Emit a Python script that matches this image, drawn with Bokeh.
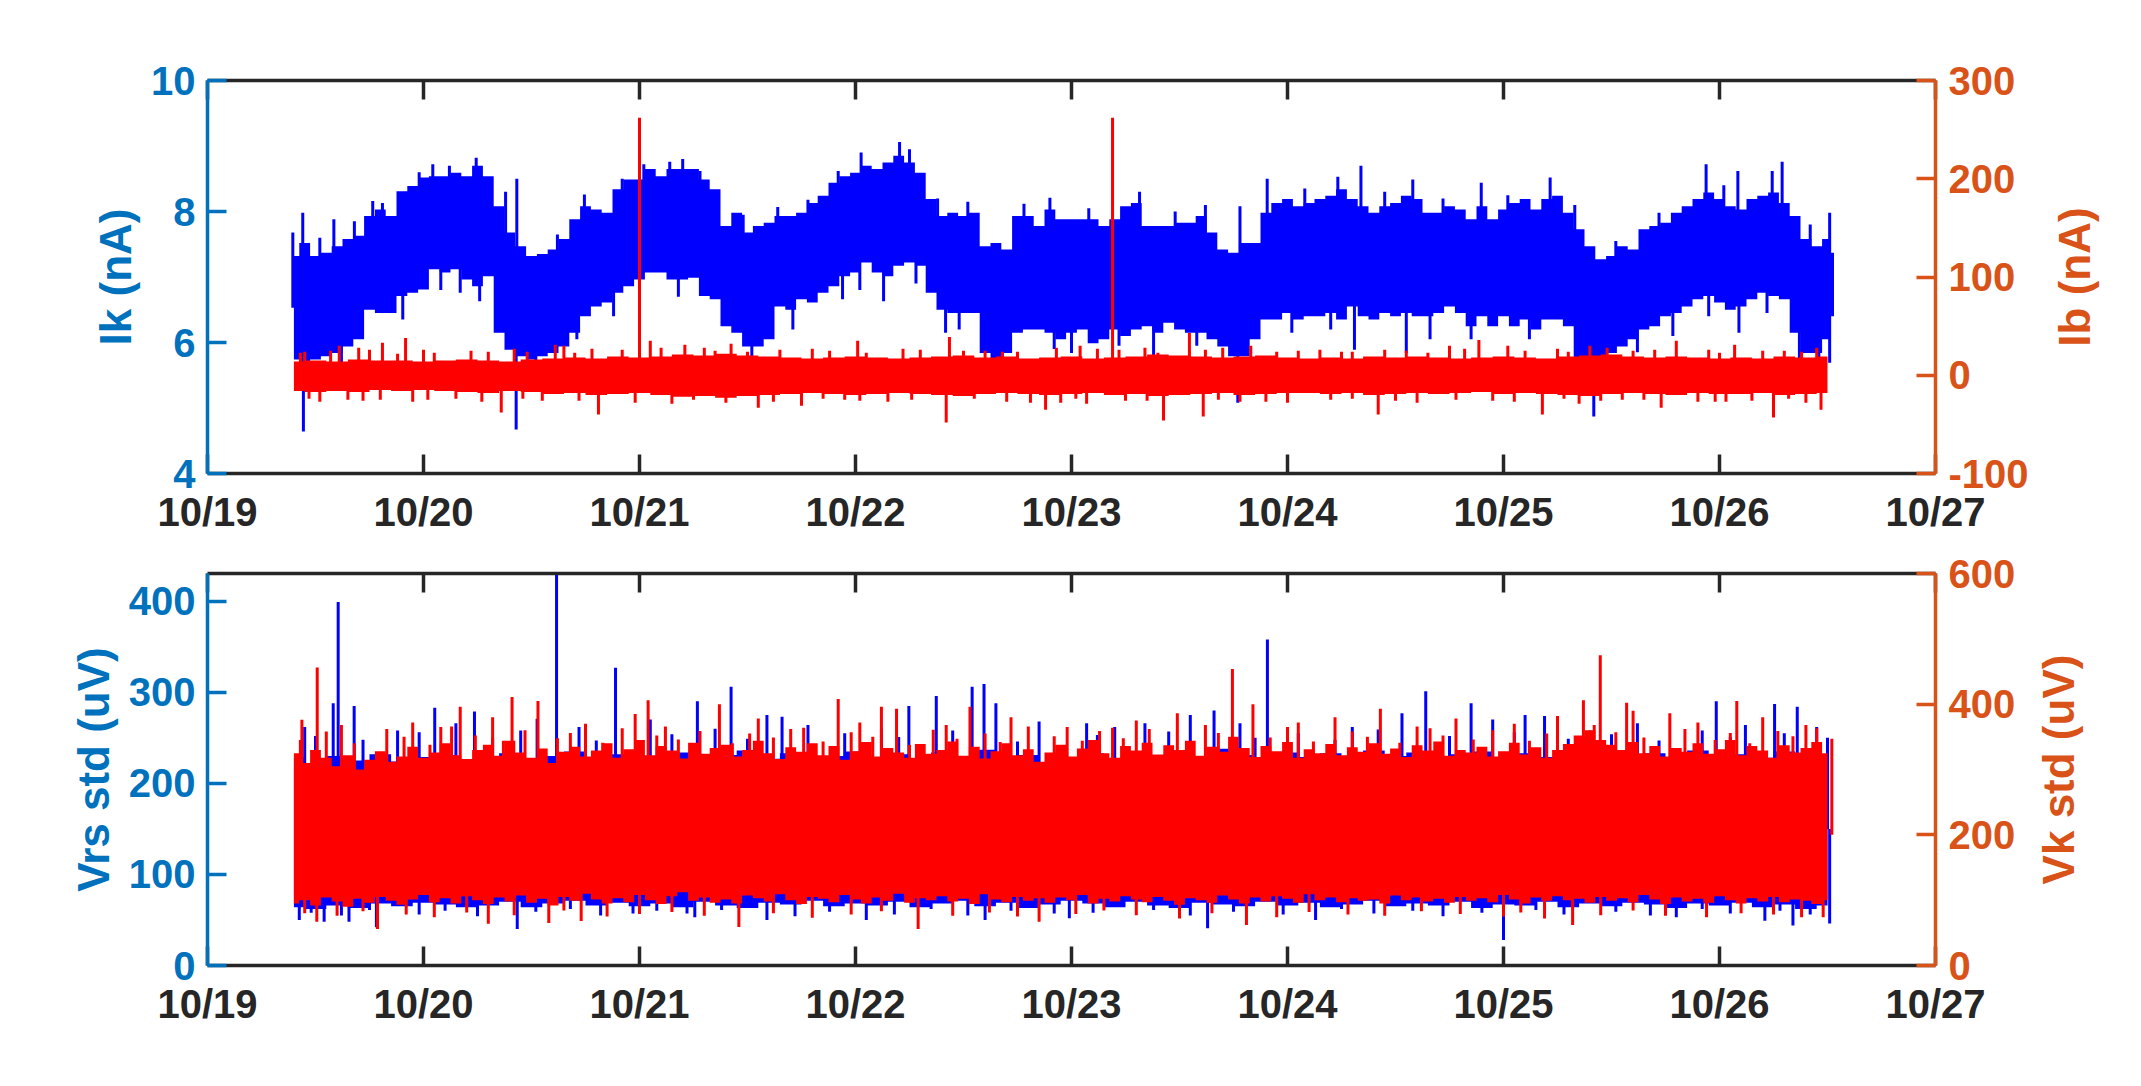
import math
import numpy as np
from bokeh.plotting import figure
from bokeh.models import Range1d, LinearAxis, FixedTicker
from bokeh.core.properties import value
from bokeh.layouts import column, row
from bokeh.embed import file_html
from bokeh.resources import INLINE

# ---------------- data (days since 10/19 00:00) ----------------
day_ticks = [0, 1, 2, 3, 4, 5, 6, 7, 8]
day_labels = ["10/19", "10/20", "10/21", "10/22", "10/23", "10/24", "10/25", "10/26", "10/27"]

# Top panel: Ik (nA), core envelope every 0.05 day
ik_t = [round(0.40 + 0.05 * i, 2) for i in range(143)] + [7.53]
ik_hi = [7.32, 7.52, 7.32, 7.37, 7.47, 7.58, 7.63, 7.93, 8.03, 7.93,
         8.31, 8.39, 8.52, 8.54, 8.54, 8.59, 8.54, 8.70, 8.54, 8.08,
         7.68, 7.47, 7.32, 7.35, 7.42, 7.58, 7.88, 8.08, 8.03, 7.98,
         8.34, 8.49, 8.49, 8.65, 8.54, 8.65, 8.65, 8.65, 8.49, 8.34,
         7.78, 7.98, 7.68, 7.78, 7.83, 7.93, 7.93, 7.98, 8.13, 8.24,
         8.44, 8.54, 8.59, 8.70, 8.65, 8.75, 8.85, 8.75, 8.59, 8.19,
         7.93, 7.98, 7.93, 7.98, 7.47, 7.52, 7.42, 7.93, 7.93, 7.78,
         8.03, 7.88, 7.88, 7.88, 7.88, 7.78, 7.88, 8.08, 8.13, 7.78,
         7.78, 7.78, 7.83, 7.83, 7.93, 7.68, 7.42, 7.37, 7.52, 7.52,
         7.98, 8.13, 8.19, 8.08, 8.13, 8.19, 8.24, 8.34, 8.19, 8.08,
         7.98, 8.08, 8.13, 8.24, 8.19, 7.98, 7.98, 8.08, 8.03, 7.88,
         8.08, 7.88, 8.03, 8.13, 8.19, 8.03, 8.19, 8.24, 7.98, 7.73,
         7.47, 7.27, 7.32, 7.47, 7.42, 7.73, 7.78, 7.83, 7.98, 8.08,
         8.19, 8.29, 8.19, 8.08, 8.03, 8.19, 8.24, 8.29, 8.13, 7.93,
         7.58, 7.47, 7.58, 7.37]
ik_lo = [5.74, 5.69, 5.74, 5.79, 5.84, 5.94, 6.05, 6.50, 6.45, 6.45,
         6.71, 6.76, 6.81, 7.12, 7.07, 7.12, 6.96, 6.86, 7.01, 6.15,
         5.89, 5.79, 5.74, 5.79, 5.84, 5.94, 6.15, 6.40, 6.55, 6.61,
         6.76, 6.86, 6.96, 7.07, 7.07, 6.96, 6.96, 6.99, 6.71, 6.66,
         6.25, 6.15, 5.94, 5.94, 6.05, 6.55, 6.50, 6.66, 6.61, 6.76,
         6.86, 7.01, 7.07, 7.22, 7.07, 7.01, 7.17, 7.22, 7.17, 6.76,
         6.50, 6.45, 6.45, 6.45, 5.84, 5.69, 5.84, 6.15, 6.20, 6.20,
         6.15, 6.05, 6.15, 6.20, 5.99, 6.05, 6.20, 6.10, 6.20, 6.25,
         6.15, 6.30, 6.20, 6.15, 6.15, 6.05, 5.94, 5.79, 5.79, 6.05,
         6.35, 6.35, 6.45, 6.35, 6.40, 6.40, 6.45, 6.35, 6.55, 6.40,
         6.35, 6.45, 6.40, 6.45, 6.40, 6.40, 6.45, 6.55, 6.45, 6.25,
         6.40, 6.25, 6.40, 6.25, 6.35, 6.20, 6.35, 6.35, 6.25, 5.74,
         5.69, 5.69, 5.84, 5.94, 6.05, 6.20, 6.25, 6.40, 6.45, 6.55,
         6.66, 6.71, 6.61, 6.50, 6.55, 6.66, 6.76, 6.71, 6.66, 6.15,
         5.84, 5.84, 6.05, 6.40]
ik_spike_t = [0.395, 0.441, 0.585, 0.765, 0.81, 1.043, 1.244, 1.432, 1.745, 2.02,
              2.14, 2.2, 2.64, 3.026, 3.204, 3.25, 3.90, 4.315, 4.78, 4.906,
              5.233, 5.34, 5.58, 5.897, 6.216, 6.938, 7.085, 7.244, 7.29, 7.51,
              0.52, 0.68, 0.98, 1.12, 1.38, 1.62, 1.92, 2.28, 2.48, 2.78,
              2.92, 3.38, 3.52, 3.78, 4.08, 4.48, 4.62, 5.08, 5.45, 5.72,
              6.02, 6.33, 6.52, 6.72, 7.02, 7.42,
              0.444, 1.429, 0.904, 1.26, 1.17, 1.71, 2.94, 3.13, 3.417, 2.71,
              3.68, 4.77, 5.31, 5.55, 5.66, 4.0, 4.38, 6.418, 7.37, 7.51,
              6.784, 7.09, 0.62, 1.08, 1.52, 1.88, 2.18, 2.52, 3.02, 3.28,
              3.48, 3.92, 4.22, 4.58, 5.02, 5.20, 5.85, 6.12, 6.62, 6.95,
              7.22, 7.46]
ik_spike_v = [7.68, 7.98, 7.88, 8.16, 8.13, 8.72, 8.82, 8.50, 8.26, 8.72,
              8.76, 8.80, 8.07, 8.90, 9.06, 8.95, 8.21, 8.30, 8.08, 8.50,
              8.53, 8.70, 8.49, 8.44, 8.52, 8.72, 8.62, 8.62, 8.76, 7.98,
              7.60, 7.85, 8.60, 8.70, 8.30, 7.65, 8.50, 8.62, 7.95, 8.18,
              8.62, 8.20, 8.15, 8.12, 8.05, 8.00, 8.10, 8.35, 8.30, 8.20,
              8.25, 8.10, 7.55, 7.98, 8.40, 7.80,
              4.64, 4.67, 6.35, 6.63, 6.76, 6.05, 6.66, 6.63, 6.15, 6.20,
              5.64, 5.08, 5.89, 5.84, 6.05, 5.84, 5.79, 4.87, 5.74, 5.69,
              6.10, 6.15, 5.60, 6.80, 5.55, 6.40, 6.70, 5.75, 6.80, 6.90,
              6.20, 5.90, 5.95, 5.95, 6.15, 6.20, 6.05, 6.05, 5.85, 6.40,
              6.45, 5.62]

# Top panel: Ib (nA), core envelope every 0.1 day
ib_t = [round(0.40 + 0.1 * i, 2) for i in range(72)]
ib_hi = [14, 15, 14, 16, 15, 15, 14,
         15, 16, 15, 14, 16, 17, 18, 17, 19, 18,
         19, 21, 20, 22, 20, 19, 18, 17, 18, 19,
         18, 17, 18, 19, 20, 18, 19, 17, 18, 19,
         17, 18, 19, 21, 20, 19, 18, 19, 20, 18,
         17, 18, 17, 19, 18, 19, 18, 17, 18, 19,
         18, 17, 19, 20, 21, 19, 18, 19, 18, 17,
         18, 17, 19, 18, 19]
ib_lo = [-16, -17, -16, -17, -15, -16, -15,
         -16, -17, -18, -16, -17, -19, -18, -20, -19, -18,
         -20, -22, -21, -23, -21, -20, -19, -18, -19, -20,
         -19, -18, -19, -20, -21, -19, -18, -19, -20, -19,
         -18, -20, -19, -21, -20, -19, -18, -20, -19, -18,
         -18, -19, -18, -20, -19, -18, -19, -18, -17, -19,
         -18, -19, -20, -21, -19, -18, -19, -20, -18, -19,
         -19, -18, -20, -19, -18]
ib_spike_t = [2.0, 4.19,
              0.917, 0.61, 0.70, 0.81, 2.05, 1.65, 1.61, 3.435, 2.21, 2.424,
              3.01, 3.93, 4.546, 4.04, 4.83, 5.75, 4.34, 5.886, 6.02, 6.48,
              6.8, 7.07, 0.45, 0.75, 1.05, 1.22, 1.48, 1.78, 2.30, 2.65,
              2.88, 3.22, 3.60, 3.75, 4.22, 4.70, 4.95, 5.15, 5.30, 5.55,
              6.25, 6.40, 6.60, 6.95, 7.30, 7.45,
              0.43, 0.57, 0.88, 1.00, 1.30, 1.42, 1.70, 1.92, 2.10, 2.35,
              2.50, 2.80, 3.05, 3.30, 3.50, 3.68, 4.12, 4.40, 4.62, 5.05,
              5.25, 5.45, 5.65, 5.82, 6.10, 6.30, 6.70, 7.00, 7.20, 7.38,
              1.36, 1.81, 0.52, 0.80, 3.42, 2.55, 2.75, 3.88, 3.81, 4.426,
              4.61, 5.42, 4.07, 4.78, 6.18, 7.25, 7.47, 6.73, 7.03,
              0.65, 0.95, 1.15, 1.55, 2.15, 2.40, 2.95, 3.15, 3.55, 3.95,
              4.25, 4.90, 5.20, 5.60, 5.95, 6.35, 6.55, 6.90, 7.15, 7.40,
              0.47, 0.72, 1.02, 1.27, 1.46, 1.72, 1.98, 2.25, 2.62, 2.85,
              3.02, 3.26, 3.70, 4.02, 4.35, 4.68, 5.00, 5.30, 5.50, 5.78,
              6.05, 6.28, 6.45, 6.65, 6.98, 7.32]
ib_spike_v = [262, 262,
              38, 30, 28, 33, 35, 30, 31, 39, 31, 32,
              35, 28, 43, 30, 30, 30, 28, 36, 30, 28,
              35, 31, 24, 26, 23, 25, 24, 27, 28, 26,
              25, 27, 25, 24, 26, 28, 24, 26, 24, 25,
              27, 30, 25, 26, 25, 28,
              23, 25, 22, 26, 24, 27, 23, 26, 28, 25,
              24, 27, 23, 26, 25, 24, 27, 23, 26, 25,
              24, 26, 23, 27, 25, 24, 26, 23, 25, 24,
              -38, -40, -27, -25, -48, -33, -31, -35, -28, -46,
              -42, -40, -29, -27, -40, -43, -35, -33, -27,
              -25, -27, -24, -26, -29, -28, -25, -27, -24, -28,
              -26, -27, -25, -28, -26, -29, -25, -27, -26, -28,
              -24, -26, -25, -27, -24, -26, -28, -25, -27, -24,
              -26, -25, -27, -24, -26, -25, -28, -24, -26, -25,
              -27, -24, -26, -25, -27, -24]

# Bottom panel: Vrs std (uV), core envelope every 0.1 day
vrs_t = [round(0.40 + 0.1 * i, 2) for i in range(72)]
vrs_hi = [228, 222, 230, 225, 232, 224, 229,
          231, 226, 222, 233, 225, 230, 235, 227, 232, 224,
          230, 234, 226, 231, 236, 227, 233, 226, 230, 235,
          227, 232, 225, 234, 229, 237, 226, 231, 223, 228,
          233, 226, 235, 230, 233, 228, 238, 231, 227, 234,
          229, 233, 226, 236, 230, 234, 228, 232, 235, 226,
          233, 229, 226, 235, 231, 228, 233, 229, 236, 230,
          232, 228, 235, 231, 226]
vrs_lo = [64, 62, 66, 63, 68, 65, 69,
          67, 64, 66, 70, 64, 68, 71, 66, 69, 65,
          68, 64, 70, 66, 63, 69, 67, 71, 65, 68,
          66, 70, 64, 68, 71, 65, 69, 63, 67, 71,
          68, 64, 70, 66, 63, 69, 67, 65, 70, 66,
          69, 64, 67, 71, 65, 68, 66, 70, 63, 67,
          66, 70, 64, 68, 65, 69, 67, 63, 68, 66,
          69, 64, 67, 62, 66]
vrs_spike_t = [0.605, 1.616, 1.889, 2.424, 3.374, 3.54, 3.595, 0.582, 0.679, 1.052,
               1.236, 1.526, 2.268, 3.247, 3.65, 2.59, 2.66, 4.907, 5.64, 5.85,
               6.985, 7.255, 7.36, 5.53, 4.66, 4.34, 4.07, 4.55, 6.10, 6.19,
               0.45, 0.88, 1.15, 1.72, 2.05, 2.78, 3.12, 3.85, 4.20, 4.78,
               5.30, 5.95, 6.40, 6.62, 7.12, 7.45,
               0.50, 0.72, 0.98, 1.32, 1.45, 1.80, 2.15, 2.35, 2.50, 2.95,
               3.20, 3.45, 3.75, 4.12, 4.45, 4.85, 5.05, 5.22, 5.42, 5.75,
               6.05, 6.30, 6.50, 6.72, 6.92, 7.05, 7.30, 7.50,
               1.434, 0.782, 0.425, 0.54, 0.655, 2.59, 2.256, 1.97, 3.60, 3.05,
               6.0, 7.34, 4.63, 7.21, 5.13, 6.8, 3.99, 7.51,
               0.48, 0.62, 0.75, 0.98, 1.10, 1.25, 1.52, 1.68, 1.82, 2.08,
               2.22, 2.38, 2.72, 2.88, 3.18, 3.35, 3.52, 3.72, 3.92, 4.10,
               4.38, 4.55, 4.75, 4.98, 5.25, 5.40, 5.58, 5.72, 5.90, 6.15,
               6.28, 6.52, 6.68, 6.92, 7.05, 7.28, 7.42]
vrs_spike_v = [399, 430, 327, 306, 296, 306, 309, 288, 285, 283,
               279, 271, 290, 285, 288, 275, 273, 358, 301, 288,
               290, 287, 284, 277, 280, 266, 266, 275, 275, 274,
               262, 258, 266, 262, 270, 264, 260, 268, 262, 266,
               262, 270, 258, 266, 264, 262,
               252, 248, 256, 250, 258, 247, 254, 260, 249, 255,
               251, 258, 246, 253, 257, 250, 255, 248, 259, 252,
               256, 249, 254, 247, 258, 251, 255, 250,
               40, 42, 50, 48, 48, 50, 53, 57, 50, 50,
               28, 44, 41, 49, 50, 53, 52, 46,
               58, 55, 61, 56, 60, 54, 59, 62, 55, 60,
               57, 61, 54, 59, 56, 62, 55, 60, 57, 58,
               61, 55, 59, 56, 62, 57, 60, 54, 58, 61,
               56, 59, 55, 62, 57, 60, 56]

# Bottom panel: Vk std (uV), core envelope every 0.05 day
vk_t = [round(0.40 + 0.05 * i, 2) for i in range(143)]
vk_hi = [325, 310, 330, 318, 305, 322, 300, 315, 328, 312,
         320, 335, 318, 326, 340, 322, 316, 330, 338, 321,
         344, 326, 318, 332, 310, 327, 335, 320, 329, 340,
         318, 331, 345, 322, 336, 329, 317, 341, 324, 333,
         338, 320, 330, 344, 325, 316, 334, 327, 340, 322,
         336, 315, 328, 342, 320, 333, 326, 318, 339, 324,
         330, 343, 321, 335, 317, 328, 340, 322, 331, 312,
         326, 338, 320, 332, 345, 325, 318, 336, 329, 341,
         323, 337, 330, 344, 321, 335, 327, 350, 333, 319,
         336, 328, 342, 318, 331, 325, 339, 322, 334, 327,
         340, 324, 332, 319, 337, 329, 343, 321, 330, 326,
         335, 320, 328, 341, 323, 334, 318, 330, 339, 352,
         360, 345, 338, 330, 342, 325, 336, 320, 333, 327,
         340, 324, 331, 345, 322, 336, 329, 318, 337, 326,
         333, 342, 325]
vk_lo = [95, 100, 92, 104, 98, 90, 102, 96, 105, 99,
         93, 101, 108, 97, 103, 95, 106, 100, 94, 104,
         98, 107, 96, 102, 92, 105, 99, 110, 101, 95,
         103, 97, 108, 100, 94, 106, 112, 99, 104, 96,
         101, 95, 107, 103, 98, 109, 100, 94, 105, 102,
         97, 108, 101, 95, 104, 99, 110, 96, 103, 100,
         106, 98, 102, 94, 109, 101, 97, 105, 99, 103,
         96, 104, 100, 108, 95, 102, 98, 106, 101, 97,
         105, 99, 93, 103, 100, 96, 107, 101, 95, 104,
         98, 106, 102, 96, 109, 100, 104, 97, 103, 99,
         101, 95, 107, 100, 104, 98, 102, 96, 105, 99,
         103, 97, 108, 101, 95, 104, 99, 106, 100, 102,
         96, 105, 99, 103, 97, 108, 101, 94, 104, 98,
         102, 96, 106, 100, 95, 103, 98, 105, 97, 101,
         99, 94, 100]
vk_spike_t = [0.508, 1.41, 1.53, 2.04, 2.92, 2.37, 0.437, 3.12, 3.19, 3.53,
              1.17, 4.745, 6.448, 4.84, 4.49, 7.08, 6.77, 6.57, 6.37, 5.43,
              4.19, 0.62, 0.95, 1.08, 1.32, 1.75, 1.98, 2.12, 2.55, 2.70,
              3.02, 3.42, 3.72, 3.98, 4.30, 4.62, 5.05, 5.22, 5.60, 5.78,
              6.05, 6.25, 6.60, 6.90, 7.20, 7.40,
              0.43, 0.55, 0.68, 0.83, 0.91, 1.03, 1.13, 1.24, 1.37, 1.47,
              1.62, 1.68, 1.83, 1.92, 2.08, 2.18, 2.28, 2.43, 2.51, 2.62,
              2.76, 2.85, 2.98, 3.08, 3.25, 3.36, 3.47, 3.60, 3.67, 3.80,
              3.92, 4.05, 4.13, 4.24, 4.36, 4.56, 4.68, 4.92, 5.00, 5.12,
              5.30, 5.37, 5.52, 5.66, 5.72, 5.86, 5.95, 6.12, 6.20, 6.42,
              6.52, 6.65, 6.84, 6.98, 7.05, 7.14, 7.27, 7.34, 7.45, 7.52,
              0.787, 1.3, 1.58, 2.46, 3.29, 3.85, 0.506, 1.73, 4.81, 6.32,
              4.50, 7.48, 6.19, 6.94,
              0.45, 0.60, 0.72, 0.92, 1.05, 1.20, 1.42, 1.65, 1.85, 2.00,
              2.15, 2.30, 2.62, 2.80, 2.98, 3.12, 3.45, 3.62, 3.75, 4.02,
              4.15, 4.30, 4.65, 4.95, 5.10, 5.28, 5.45, 5.62, 5.80, 6.00,
              6.08, 6.45, 6.60, 6.75, 7.10, 7.25, 7.38]
vk_spike_v = [456, 411, 405, 406, 408, 400, 376, 396, 393, 396,
              396, 454, 475, 400, 386, 405, 386, 402, 406, 393,
              364, 368, 372, 365, 380, 370, 385, 366, 378, 362,
              372, 368, 380, 365, 375, 368, 372, 380, 366, 378,
              370, 382, 390, 372, 380, 368,
              345, 358, 340, 362, 350, 338, 366, 352, 344, 360,
              348, 356, 341, 363, 352, 346, 359, 340, 355, 349,
              364, 343, 357, 350, 338, 361, 347, 355, 342, 366,
              351, 344, 359, 348, 362, 340, 356, 349, 365, 343,
              358, 350, 341, 363, 352, 346, 360, 344, 355, 368,
              357, 349, 362, 345, 356, 340, 359, 351, 363, 347,
              56, 64, 65, 59, 56, 67, 67, 68, 62, 62,
              72, 74, 72, 74,
              80, 76, 83, 78, 74, 81, 77, 84, 75, 79,
              82, 76, 80, 73, 78, 83, 76, 81, 75, 79,
              84, 77, 80, 74, 82, 78, 76, 83, 79, 75,
              81, 77, 84, 76, 80, 78, 74]

# ---------------- styling ----------------
FONT = "Liberation Sans"
LEFT_C = "#0072BD"
RIGHT_C = "#D95319"
AX_C = "#262626"
BLUE = "#0000FF"
RED = "#FF0000"
FRAME_W = 1728
RIGHT_BORDER = 94
LABEL_W = 98
RIGHT_AXIS_X = 1936  # page x of the right frame edge


def style_axis(ax, color, label_color, ticks, overrides, show_labels=True):
    ax.ticker = FixedTicker(ticks=ticks)
    ax.major_label_overrides = overrides
    ax.axis_line_color = color
    ax.axis_line_width = 3.5
    ax.major_tick_line_color = color
    ax.major_tick_line_width = 3.5
    ax.major_tick_in = 19
    ax.major_tick_out = 0
    ax.minor_tick_line_color = None
    ax.major_label_text_font = FONT
    ax.major_label_text_font_style = "bold"
    ax.major_label_text_color = label_color
    ax.major_label_text_font_size = "40px" if show_labels else "0px"
    ax.axis_label_text_font = FONT
    ax.axis_label_text_font_style = "bold"
    ax.axis_label_text_font_size = "44px"
    ax.axis_label_text_color = label_color


def make_panel(yrange, rrange, lticks, rticks, llabel, top, bottom, fh):
    p = figure(frame_width=FRAME_W, frame_height=fh,
               x_range=Range1d(0, 8), y_range=Range1d(*yrange),
               output_backend="svg", toolbar_location=None,
               min_border_left=207, min_border_right=RIGHT_BORDER,
               min_border_top=top, min_border_bottom=bottom)
    p.outline_line_color = None
    p.xgrid.visible = False
    p.ygrid.visible = False
    p.background_fill_color = "white"
    p.border_fill_color = "white"
    p.extra_y_ranges = {"r": Range1d(*rrange)}

    xover = {t: lab for t, lab in zip(day_ticks, day_labels)}
    style_axis(p.xaxis[0], AX_C, AX_C, day_ticks, xover)
    p.xaxis[0].major_label_standoff = 16

    style_axis(p.yaxis[0], LEFT_C, LEFT_C, lticks, {t: str(t) for t in lticks})
    p.yaxis[0].axis_label = llabel
    p.yaxis[0].major_label_standoff = 12
    p.yaxis[0].axis_label_standoff = 8

    rax = LinearAxis(y_range_name="r")
    style_axis(rax, RIGHT_C, RIGHT_C, rticks, {t: str(t) for t in rticks})
    rax.major_label_standoff = 13
    p.add_layout(rax, "right")

    tax = LinearAxis()
    style_axis(tax, AX_C, AX_C, day_ticks, {t: "" for t in day_ticks}, show_labels=False)
    tax.major_label_standoff = 0
    p.add_layout(tax, "above")
    return p


def label_strip(text, page_x, top, bottom, fh):
    """Narrow strip right of a panel holding its right-hand y-axis title."""
    q = figure(frame_width=LABEL_W, frame_height=fh,
               x_range=Range1d(0, LABEL_W), y_range=Range1d(0, 1),
               output_backend="svg", toolbar_location=None,
               x_axis_location=None, y_axis_location=None,
               min_border_left=0, min_border_right=0,
               min_border_top=top, min_border_bottom=bottom)
    q.outline_line_color = None
    q.grid.visible = False
    q.background_fill_color = "white"
    q.border_fill_color = "white"
    xc = page_x - (RIGHT_AXIS_X + RIGHT_BORDER)
    q.text(x=[xc], y=[0.5], text=[text], angle=math.pi / 2,
           text_align="center", text_baseline="middle",
           text_font=value(FONT), text_font_style="bold",
           text_font_size="44px", text_color=RIGHT_C)
    return q


def spikes(p, t, v, base_t, base_v, color, rname=None):
    t = np.asarray(t, float)
    v = np.asarray(v, float)
    base = np.interp(t, np.asarray(base_t, float), np.asarray(base_v, float))
    kw = {} if rname is None else {"y_range_name": rname}
    p.segment(x0=t, y0=base, x1=t, y1=v, line_color=color, line_width=3, **kw)


# ---------------- top panel ----------------
p1 = make_panel((4, 10), (-100, 300), [4, 6, 8, 10], [-100, 0, 100, 200, 300],
                "Ik (nA)", top=80, bottom=75, fh=393)
ik_mid = (np.array(ik_hi) + np.array(ik_lo)) / 2
p1.varea_step(x=ik_t, y1=ik_lo, y2=ik_hi, step_mode="center", fill_color=BLUE)
spikes(p1, ik_spike_t, ik_spike_v, ik_t, ik_mid, BLUE)
p1.varea_step(x=ib_t, y1=ib_lo, y2=ib_hi, step_mode="center", fill_color=RED, y_range_name="r")
spikes(p1, ib_spike_t, ib_spike_v, ib_t, [0] * len(ib_t), RED, "r")
l1 = label_strip("Ib (nA)", 2073, top=80, bottom=75, fh=393)

# ---------------- bottom panel ----------------
p2 = make_panel((0, 430.4), (0, 600), [0, 100, 200, 300, 400], [0, 200, 400, 600],
                "Vrs std (uV)", top=25, bottom=80, fh=392)
p2.varea_step(x=vrs_t, y1=vrs_lo, y2=vrs_hi, step_mode="center", fill_color=BLUE)
spikes(p2, vrs_spike_t, vrs_spike_v, vrs_t, [150] * len(vrs_t), BLUE)
p2.varea_step(x=vk_t, y1=vk_lo, y2=vk_hi, step_mode="center", fill_color=RED, y_range_name="r")
spikes(p2, vk_spike_t, vk_spike_v, vk_t, [200] * len(vk_t), RED, "r")
l2 = label_strip("Vk std (uV)", 2059, top=25, bottom=80, fh=392)

layout = column(row(p1, l1), row(p2, l2))
open("out.html", "w").write(file_html(layout, INLINE))
